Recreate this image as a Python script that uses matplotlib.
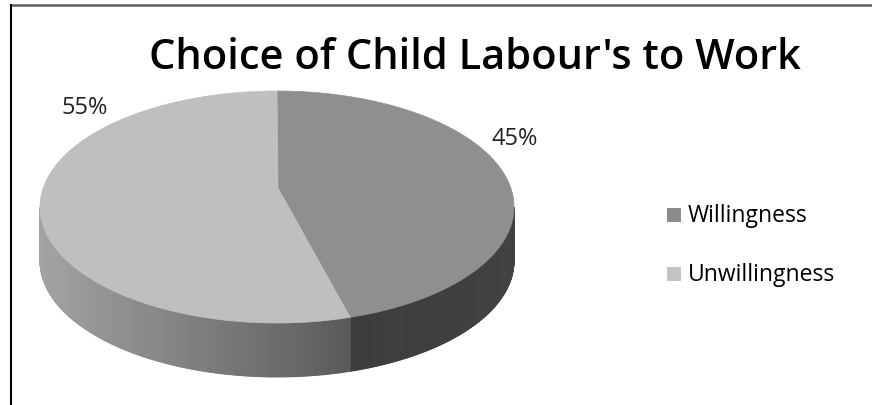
import numpy as np
import matplotlib.pyplot as plt
from matplotlib.patches import Polygon, Rectangle

# Chart data
labels = ["Willingness", "Unwillingness"]
shares = [45, 55]
title = "Choice of Child Labour's to Work"

plt.rcParams['font.family'] = ['Open Sans', 'DejaVu Sans']

W, H = 872, 406
fig = plt.figure(figsize=(W / 100, H / 100), dpi=100)
ax = fig.add_axes([0, 0, 1, 1])
ax.set_xlim(0, W)
ax.set_ylim(H, 0)
ax.axis('off')

# 3-D pie geometry (pixel space, y downward)
cx, cy, a, b, depth = 277, 208, 237, 116, 54
apex = (278, 189)
top_colors = ['#8f8f8f', '#bfbfbf']
legend_colors = ['#8c8c8c', '#c3c3c3']
# side shade (grey level) at the left / right end of each visible side band
side_shade = [(0.23, 0.26), (0.64, 0.35)]


def rim(theta_deg):
    """Point on the top ellipse, angle clockwise from 12 o'clock."""
    t = np.radians(theta_deg)
    return cx + a * np.sin(t), cy - b * np.cos(t)


total = float(sum(shares))
bounds = np.concatenate([[0.0], np.cumsum(shares)]) / total * 360.0

# Visible front side (between 90 and 270 degrees)
for i in range(len(shares)):
    t0, t1 = max(bounds[i], 90.0), min(bounds[i + 1], 270.0)
    if t1 <= t0:
        continue
    ts = np.linspace(t0, t1, int((t1 - t0) * 3) + 2)
    xs_all = [rim(t)[0] for t in ts]
    xl, xr = min(xs_all), max(xs_all)
    lo, hi = side_shade[i]
    for k in range(len(ts) - 1):
        x0, y0 = rim(ts[k])
        x1, y1 = rim(ts[k + 1])
        xm = 0.5 * (x0 + x1)
        f = (xm - xl) / (xr - xl) if xr > xl else 0
        g = lo + (hi - lo) * f
        quad = [(x0, y0), (x1, y1), (x1, y1 + depth), (x0, y0 + depth)]
        ax.add_patch(Polygon(quad, closed=True, facecolor=(g, g, g),
                             edgecolor=(g, g, g), linewidth=0.6, zorder=1))

# Top faces
for i in range(len(shares)):
    ts = np.linspace(bounds[i], bounds[i + 1], 200)
    pts = [apex] + [rim(t) for t in ts]
    ax.add_patch(Polygon(pts, closed=True, facecolor=top_colors[i],
                         edgecolor=top_colors[i], linewidth=0.5, zorder=2))

# Percentage labels
pct = [f"{round(v / total * 100):d}%" for v in shares]
label_pos = [(515, 139), (85, 108)]
for txt, (lx, ly) in zip(pct, label_pos):
    ax.text(lx, ly, txt, ha='center', va='center', fontsize=17,
            color='#222222', zorder=3)

# Title
ax.text(475, 58, title, ha='center', va='center', fontsize=30,
        fontweight='semibold', color='black')

# Legend
leg_y = [216, 275]
for name, col, ly in zip(labels, legend_colors, leg_y):
    ax.add_patch(Rectangle((667, ly - 7), 14, 14, facecolor=col,
                           edgecolor='none'))
    ax.text(688, ly, name, ha='left', va='center', fontsize=16.5,
            color='black')

# Frame lines
ax.plot([10, W], [5.5, 5.5], color='#5f5f5f', linewidth=1.8,
        solid_capstyle='butt')
ax.plot([10.5, 10.5], [5, H], color='black', linewidth=1.5,
        solid_capstyle='butt')

fig.savefig('out.png', dpi=100)
